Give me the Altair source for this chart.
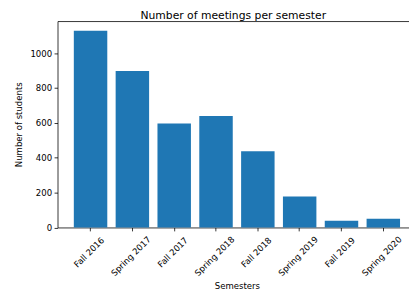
import altair as alt
import pandas as pd

semesters = ["Fall 2016", "Spring 2017", "Fall 2017", "Spring 2018",
             "Fall 2018", "Spring 2019", "Fall 2019", "Spring 2020"]
students = [1128, 897, 596, 639, 437, 178, 39, 50]
y_ticks = [0, 200, 400, 600, 800, 1000]

df = pd.DataFrame({"Semester": semesters, "Students": students})

FONT = "DejaVu Sans"
BLUE = "#1f77b4"
PAD_LEFT = 50.5
PLOT_W = 409 - PAD_LEFT   # visible part of the plot area
RANGE_W = 366             # full axes width (right part runs off the window)
PAD_TOP = 10.5
PLOT_H = 210.5
PAD_BOTTOM = 284 - PAD_TOP - PLOT_H

xscale = alt.Scale(domain=semesters, range=[0, RANGE_W], paddingInner=0.2, paddingOuter=0.39)
yscale = alt.Scale(domain=[0, 1184], nice=False, zero=True)

common_label = dict(
    labelAngle=-45,
    labelAlign="center",
    labelBaseline="middle",
    labelOffset=-1.5,
    labelOverlap=False,
    labelBound=False,
    labelFlush=False,
    tickSize=3.5,
)

axis_fall = alt.Axis(
    orient="bottom",
    labelExpr="indexof(datum.label, 'Fall') == 0 ? datum.label : ''",
    labelPadding=21.4,
    title="Semesters",
    titleY=62.5,
    titleBaseline="alphabetic",
    **common_label,
)
axis_spring = alt.Axis(
    orient="bottom",
    labelExpr="indexof(datum.label, 'Spring') == 0 ? datum.label : ''",
    labelPadding=25.4,
    domain=False,
    tickColor="transparent",
    title=None,
    **common_label,
)
axis_top = alt.Axis(orient="top", labels=False, ticks=False, domain=True, title=None)

yaxis = alt.Axis(
    title="Number of students",
    values=y_ticks,
    format="d",
    grid=False,
    tickSize=3.5,
    labelPadding=2.5,
    titleX=-39.5,
    titleBaseline="middle",
    titleAlign="center",
)

base = alt.Chart(df)
bars = base.mark_bar(color=BLUE).encode(
    x=alt.X("Semester:N", sort=semesters, scale=xscale, axis=axis_fall),
    y=alt.Y("Students:Q", scale=yscale, axis=yaxis),
)
ghost_spring = base.mark_bar(opacity=0).encode(
    x=alt.X("Semester:N", sort=semesters, scale=xscale, axis=axis_spring),
    y=alt.Y("Students:Q", scale=yscale, axis=None),
)
ghost_top = base.mark_bar(opacity=0).encode(
    x=alt.X("Semester:N", sort=semesters, scale=xscale, axis=axis_top),
    y=alt.Y("Students:Q", scale=yscale, axis=None),
)

chart = alt.layer(bars, ghost_spring, ghost_top).resolve_axis(
    x="independent", y="independent"
).properties(
    width=PLOT_W,
    height=PLOT_H,
    title=alt.TitleParams(
        "Number of meetings per semester",
        font=FONT,
        fontSize=11,
        fontWeight="normal",
        color="#000000",
        anchor="middle",
        frame="group",
        offset=0,
    ),
    autosize=alt.AutoSizeParams(type="none"),
    padding={"left": PAD_LEFT, "top": PAD_TOP, "right": 0, "bottom": PAD_BOTTOM},
).configure_view(
    stroke=None,
).configure_axis(
    labelFont=FONT,
    labelFontSize=8.7,
    labelColor="#000000",
    titleFont=FONT,
    titleFontSize=8.7,
    titleFontWeight="normal",
    titleColor="#000000",
    domainColor="#000000",
    domainWidth=0.8,
    tickColor="#000000",
    tickWidth=0.8,
)

chart.save("out.html", embed_options={"renderer": "svg", "actions": False})
